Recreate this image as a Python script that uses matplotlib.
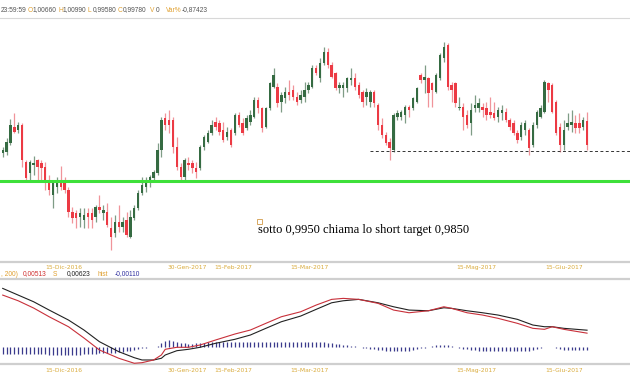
import numpy as np
import matplotlib
matplotlib.use('Agg')
import matplotlib.pyplot as plt
from matplotlib.patches import Rectangle

# daily candles, oldest first
opens = [0.9947, 0.9951, 0.9984, 1.0043, 1.0032, 1.0051, 0.9913, 0.9873, 0.9902, 0.9921,
         0.9910, 0.9895, 0.9836, 0.9791, 0.9821, 0.9839, 0.9836, 0.9810, 0.9728, 0.9724,
         0.9709, 0.9698, 0.9724, 0.9724, 0.9709, 0.9747, 0.9724, 0.9728, 0.9669, 0.9650,
         0.9691, 0.9672, 0.9698, 0.9635, 0.9706, 0.9743, 0.9798, 0.9821, 0.9836, 0.9854,
         0.9873, 0.9958, 1.0077, 1.0069, 1.0069, 0.9969, 0.9895, 0.9858, 0.9910, 0.9910,
         0.9891, 0.9891, 0.9969, 0.9988, 1.0021, 1.0062, 1.0058, 1.0032, 1.0006, 1.0032,
         1.0021, 1.0088, 1.0058, 1.0040, 1.0062, 1.0080, 1.0144, 1.0114, 1.0043, 1.0114,
         1.0192, 1.0192, 1.0136, 1.0151, 1.0173, 1.0181, 1.0155, 1.0144, 1.0155, 1.0181,
         1.0192, 1.0262, 1.0225, 1.0281, 1.0322, 1.0273, 1.0244, 1.0188, 1.0188, 1.0188,
         1.0218, 1.0225, 1.0199, 1.0173, 1.0155, 1.0136, 1.0173, 1.0125, 1.0051, 1.0014,
         0.9988, 0.9958, 1.0080, 1.0080, 1.0088, 1.0118, 1.0114, 1.0136, 1.0236, 1.0218,
         1.0225, 1.0207, 1.0173, 1.0225, 1.0299, 1.0348, 1.0199, 1.0207, 1.0114, 1.0118,
         1.0088, 1.0058, 1.0114, 1.0114, 1.0118, 1.0114, 1.0099, 1.0095, 1.0080, 1.0095,
         1.0099, 1.0069, 1.0058, 1.0021, 1.0006, 1.0032, 1.0032, 0.9977, 1.0051, 1.0080,
         1.0099, 1.0207, 1.0199, 1.0136, 1.0043, 0.9977, 1.0043, 1.0051, 1.0058, 1.0058,
         1.0043, 1.0066]
highs = [0.9969, 1.0003, 1.0073, 1.0095, 1.0062, 1.0058, 0.9921, 0.9921, 0.9936, 0.9925,
         0.9921, 0.9913, 0.9865, 0.9847, 0.9858, 0.9899, 0.9858, 0.9821, 0.9747, 0.9735,
         0.9743, 0.9743, 0.9743, 0.9743, 0.9754, 0.9791, 0.9754, 0.9761, 0.9709, 0.9717,
         0.9754, 0.9709, 0.9728, 0.9735, 0.9754, 0.9810, 0.9858, 0.9858, 0.9865, 0.9884,
         0.9984, 1.0080, 1.0095, 1.0106, 1.0080, 1.0006, 0.9910, 0.9928, 0.9932, 0.9921,
         0.9913, 0.9977, 1.0014, 1.0032, 1.0069, 1.0080, 1.0069, 1.0062, 1.0043, 1.0040,
         1.0095, 1.0099, 1.0077, 1.0088, 1.0106, 1.0155, 1.0155, 1.0118, 1.0118, 1.0210,
         1.0262, 1.0207, 1.0173, 1.0192, 1.0218, 1.0199, 1.0173, 1.0181, 1.0210, 1.0210,
         1.0273, 1.0273, 1.0299, 1.0340, 1.0336, 1.0284, 1.0247, 1.0210, 1.0210, 1.0229,
         1.0262, 1.0244, 1.0210, 1.0181, 1.0188, 1.0181, 1.0181, 1.0132, 1.0077, 1.0025,
         1.0003, 1.0095, 1.0106, 1.0106, 1.0125, 1.0125, 1.0155, 1.0192, 1.0244, 1.0273,
         1.0229, 1.0210, 1.0244, 1.0318, 1.0359, 1.0355, 1.0210, 1.0210, 1.0155, 1.0132,
         1.0106, 1.0132, 1.0162, 1.0151, 1.0132, 1.0136, 1.0155, 1.0136, 1.0118, 1.0125,
         1.0114, 1.0077, 1.0069, 1.0032, 1.0062, 1.0069, 1.0040, 1.0062, 1.0106, 1.0125,
         1.0218, 1.0210, 1.0207, 1.0144, 1.0058, 1.0069, 1.0095, 1.0106, 1.0088, 1.0095,
         1.0080, 1.0099]
lows = [0.9932, 0.9939, 0.9977, 1.0021, 1.0021, 0.9895, 0.9839, 0.9839, 0.9865, 0.9847,
        0.9839, 0.9810, 0.9791, 0.9743, 0.9798, 0.9810, 0.9798, 0.9709, 0.9687, 0.9669,
        0.9672, 0.9669, 0.9669, 0.9669, 0.9691, 0.9724, 0.9698, 0.9672, 0.9587, 0.9635,
        0.9654, 0.9654, 0.9635, 0.9632, 0.9698, 0.9735, 0.9791, 0.9802, 0.9821, 0.9839,
        0.9865, 0.9932, 1.0032, 1.0021, 0.9947, 0.9884, 0.9847, 0.9839, 0.9884, 0.9873,
        0.9854, 0.9884, 0.9958, 0.9984, 1.0014, 1.0032, 1.0014, 0.9988, 0.9995, 0.9969,
        1.0014, 1.0043, 1.0014, 1.0032, 1.0051, 1.0077, 1.0095, 1.0025, 1.0040, 1.0106,
        1.0188, 1.0118, 1.0099, 1.0132, 1.0144, 1.0144, 1.0125, 1.0132, 1.0136, 1.0169,
        1.0188, 1.0236, 1.0210, 1.0273, 1.0262, 1.0225, 1.0181, 1.0169, 1.0155, 1.0173,
        1.0199, 1.0181, 1.0151, 1.0118, 1.0125, 1.0118, 1.0118, 1.0032, 1.0003, 0.9977,
        0.9921, 0.9951, 1.0069, 1.0069, 1.0058, 1.0080, 1.0106, 1.0132, 1.0207, 1.0169,
        1.0118, 1.0118, 1.0169, 1.0218, 1.0284, 1.0181, 1.0136, 1.0118, 1.0106, 1.0032,
        1.0040, 1.0014, 1.0099, 1.0099, 1.0080, 1.0069, 1.0077, 1.0069, 1.0062, 1.0069,
        1.0062, 1.0032, 1.0014, 0.9984, 0.9995, 1.0014, 0.9939, 0.9969, 1.0040, 1.0077,
        1.0095, 1.0136, 1.0095, 1.0014, 0.9951, 0.9958, 1.0032, 1.0025, 1.0021, 1.0021,
        1.0032, 0.9958]
closes = [0.9958, 0.9988, 1.0051, 1.0025, 1.0051, 0.9921, 0.9854, 0.9913, 0.9910, 0.9895,
          0.9891, 0.9836, 0.9810, 0.9836, 0.9847, 0.9821, 0.9810, 0.9728, 0.9706, 0.9706,
          0.9724, 0.9717, 0.9709, 0.9698, 0.9747, 0.9735, 0.9735, 0.9680, 0.9635, 0.9691,
          0.9672, 0.9691, 0.9643, 0.9709, 0.9743, 0.9798, 0.9828, 0.9836, 0.9858, 0.9876,
          0.9958, 1.0069, 1.0051, 1.0051, 0.9969, 0.9895, 0.9858, 0.9921, 0.9902, 0.9891,
          0.9876, 0.9969, 1.0006, 1.0021, 1.0051, 1.0043, 1.0025, 0.9995, 1.0025, 0.9977,
          1.0088, 1.0051, 1.0021, 1.0077, 1.0088, 1.0144, 1.0114, 1.0040, 1.0114, 1.0207,
          1.0236, 1.0132, 1.0162, 1.0173, 1.0162, 1.0155, 1.0136, 1.0162, 1.0181, 1.0199,
          1.0262, 1.0244, 1.0281, 1.0322, 1.0273, 1.0229, 1.0188, 1.0199, 1.0199, 1.0225,
          1.0225, 1.0192, 1.0162, 1.0136, 1.0173, 1.0173, 1.0132, 1.0051, 1.0014, 0.9984,
          0.9965, 1.0088, 1.0095, 1.0099, 1.0118, 1.0106, 1.0151, 1.0188, 1.0218, 1.0229,
          1.0169, 1.0181, 1.0236, 1.0310, 1.0340, 1.0192, 1.0181, 1.0132, 1.0118, 1.0080,
          1.0051, 1.0106, 1.0125, 1.0132, 1.0106, 1.0088, 1.0088, 1.0077, 1.0106, 1.0106,
          1.0069, 1.0043, 1.0021, 0.9995, 1.0051, 1.0058, 0.9965, 1.0051, 1.0099, 1.0114,
          1.0210, 1.0181, 1.0099, 1.0021, 0.9977, 1.0032, 1.0058, 1.0062, 1.0040, 1.0040,
          1.0069, 0.9978]

support_level = 0.9843
dashed_level = 0.9954
dashed_from = 95

# MACD panel, sampled along the curves
macd_idx = [0, 4, 8, 12, 17, 21, 25, 30, 34, 36, 39, 41, 42, 45, 48, 51, 55, 60, 64, 68,
            72, 77, 81, 85, 88, 92, 97, 101, 105, 110, 114, 116, 120, 124, 128, 133, 137,
            140, 142, 145, 151]
macd_line = [0.01924, 0.01713, 0.01443, 0.01121, 0.00751, 0.00333, -0.00111, -0.00418,
             -0.00603, -0.00581, -0.00481, -0.00296, -0.00085, -0.00011, -0.00011, 0.00074,
             0.00259, 0.00481, 0.00629, 0.00877, 0.01121, 0.01306, 0.01554, 0.01765, 0.01802,
             0.01765, 0.01617, 0.01369, 0.01269, 0.01343, 0.01491, 0.01432, 0.01269, 0.01184,
             0.01062, 0.00877, 0.00692, 0.00655, 0.00751, 0.00655, 0.00513]
signal_line = [0.02172, 0.01924, 0.01676, 0.01369, 0.00999, 0.00629, 0.00196, -0.00174,
               -0.00396, -0.00481, -0.00481, -0.00418, -0.00296, -0.00137, -0.00085, -0.00011,
               0.00137, 0.00285, 0.00444, 0.00692, 0.00936, 0.01147, 0.01395, 0.01639, 0.01713,
               0.01765, 0.01639, 0.01491, 0.01369, 0.01343, 0.01454, 0.01432, 0.01343, 0.01269,
               0.01184, 0.01025, 0.00814, 0.00751, 0.00751, 0.00692, 0.00623]
hist = [-0.0025, -0.0025, -0.0026, -0.0026, -0.0026, -0.0026, -0.0027, -0.0027, -0.0027, -0.0027,
        -0.0027, -0.0027, -0.0028, -0.0028, -0.0028, -0.0028, -0.0028, -0.0028, -0.0028, -0.0028,
        -0.0028, -0.0027, -0.0027, -0.0026, -0.0025,
        -0.0024, -0.0023, -0.0022, -0.0022, -0.0021,
        -0.0020, -0.0018, -0.0016, -0.0013,
        -0.0010, -0.0007, -0.0005, -0.0003, -0.0001,
        0.0001, 0.0004,
        0.0014, 0.0022, 0.0026, 0.0024, 0.0020,
        0.0016, 0.0013, 0.0012, 0.0012, 0.0013,
        0.0015, 0.0016, 0.0017, 0.0018, 0.0018, 0.0018, 0.0017, 0.0017, 0.0018, 0.0019,
        0.0019, 0.0019, 0.0019, 0.0020, 0.0020, 0.0020, 0.0019, 0.0019, 0.0020, 0.0020,
        0.0020, 0.0019, 0.0019, 0.0018, 0.0018, 0.0018, 0.0018, 0.0019, 0.0020, 0.0020,
        0.0020, 0.0019, 0.0018, 0.0016, 0.0014, 0.0012, 0.0010, 0.0008,
        0.0006, 0.0004, 0.0002, 0.0001,
        -0.0002, -0.0004, -0.0006, -0.0008, -0.0010,
        -0.0012, -0.0014, -0.0015, -0.0016, -0.0016, -0.0016, -0.0015, -0.0014, -0.0012, -0.0009,
        -0.0005, -0.0002, 0.0001,
        0.0004, 0.0006, 0.0008, 0.0009, 0.0008, 0.0005,
        0.0001, -0.0003, -0.0006,
        -0.0009, -0.0011, -0.0012, -0.0013, -0.0014, -0.0014, -0.0015, -0.0015, -0.0015, -0.0015,
        -0.0015, -0.0015, -0.0015, -0.0015, -0.0014, -0.0014, -0.0013, -0.0011, -0.0008,
        -0.0004, -0.0001, 0.0001, 0.0000, -0.0003,
        -0.0007, -0.0010, -0.0011, -0.0012, -0.0012, -0.0011, -0.0011, -0.0011]

date_pos = [15.8, 47.6, 59.5, 79.4, 122.3, 145.0]
date_labels = ['15-Dic-2016', '30-Gen-2017', '15-Feb-2017', '15-Mar-2017', '15-Mag-2017', '15-Giu-2017']

header = [(1, '23:59:59', '#555555'), (28, 'O', '#e0a030'), (33, '1,00660', '#555555'),
          (58, 'H', '#e0a030'), (63, '1,00990', '#555555'), (88, 'L', '#e0a030'),
          (93, '0,99580', '#555555'), (118, 'C', '#e0a030'), (123, '0,99780', '#555555'),
          (150, 'V', '#e0a030'), (156, '0', '#555555'), (166, 'Var%', '#e0a030'),
          (182, '-0,87423', '#555555')]
macd_header = [(1, ', 200)', '#e0a030'), (23, '0,00513', '#d03030'), (53, 'S', '#e0a030'),
               (67, '0,00623', '#222222'), (97, 'hist', '#e0a030'), (115, '-0,00110', '#3030a0')]

W, H = 630, 380
GREEN = '#356b42'
RED = '#ec3a44'
GOLD = '#d9aa3a'
GRID = '#cfcfcf'

o = np.array(opens)
h = np.array(highs)
l = np.array(lows)
c = np.array(closes)
x = np.arange(len(o))
up = c >= o

fig = plt.figure(figsize=(W / 100, H / 100), dpi=100)
ax = fig.add_axes([0, 1 - 262 / H, 1, (262 - 18) / H])
ax2 = fig.add_axes([0, 1 - 364 / H, 1, (364 - 279) / H])

xlim = (-0.7, 162.1)

# candles
ax.vlines(x[up], l[up], h[up], color='#7f9c86', lw=0.9, zorder=2)
ax.vlines(x[~up], l[~up], h[~up], color='#f0949a', lw=0.9, zorder=2)
body_lo = np.minimum(o, c)
body_h = np.maximum(np.abs(c - o), 0.00025)
ax.bar(x[up], body_h[up], bottom=body_lo[up], width=0.62, color=GREEN, lw=0, zorder=3)
ax.bar(x[~up], body_h[~up], bottom=body_lo[~up], width=0.62, color=RED, lw=0, zorder=3)

ax.axhline(support_level, color='#3ee03a', lw=2.2, zorder=4)
ax.hlines(dashed_level, dashed_from, xlim[1], colors='#333333', lw=0.7,
          linestyles=(0, (3, 2.5)), zorder=4)

ax.text(258 / W, 1 - (230 - 18) / 244, 'sotto 0,9950 chiama lo short target 0,9850',
        transform=ax.transAxes, family='Liberation Serif', fontsize=9, color='black',
        va='center', ha='left')
ax.add_patch(Rectangle((257 / W, 1 - (224 - 18) / 244), 5 / W, 5 / 244, transform=ax.transAxes,
                       fill=False, ec='#d8a860', lw=0.7))

ax.set_xlim(*xlim)
ax.set_ylim(0.9542, 1.0448)
ax.set_yticks([])
ax.set_xticks(date_pos)
ax.set_xticklabels(date_labels)
ax.tick_params(axis='x', length=0, pad=2.2, labelsize=4.3, labelcolor=GOLD)
for s in ['left', 'right']:
    ax.spines[s].set_visible(False)
ax.spines['top'].set_color('#d8d8d8')
ax.spines['top'].set_linewidth(0.8)
ax.spines['bottom'].set_color(GRID)
ax.spines['bottom'].set_linewidth(1.6)

# MACD
ax2.vlines(x, 0, hist, color='#3a3a8c', lw=0.9, zorder=2)
ax2.plot(macd_idx, signal_line, color='#222222', lw=0.8, zorder=3)
ax2.plot(macd_idx, macd_line, color='#c8303a', lw=0.8, zorder=3)
ax2.set_xlim(*xlim)
ax2.set_ylim(-0.0063, 0.0252)
ax2.set_yticks([])
ax2.set_xticks(date_pos)
ax2.set_xticklabels(date_labels)
ax2.tick_params(axis='x', length=0, pad=3, labelsize=4.3, labelcolor=GOLD)
for s in ['left', 'right']:
    ax2.spines[s].set_visible(False)
for s in ['top', 'bottom']:
    ax2.spines[s].set_color(GRID)
    ax2.spines[s].set_linewidth(1.6)

for px, txt, col in header:
    fig.text(px / W, 1 - 10 / H, txt, color=col, fontsize=4.8, family='Liberation Sans',
             va='center', ha='left')
for px, txt, col in macd_header:
    fig.text(px / W, 1 - 274 / H, txt, color=col, fontsize=4.8, family='Liberation Sans',
             va='center', ha='left')

fig.savefig('out.png', dpi=100, facecolor='white')
